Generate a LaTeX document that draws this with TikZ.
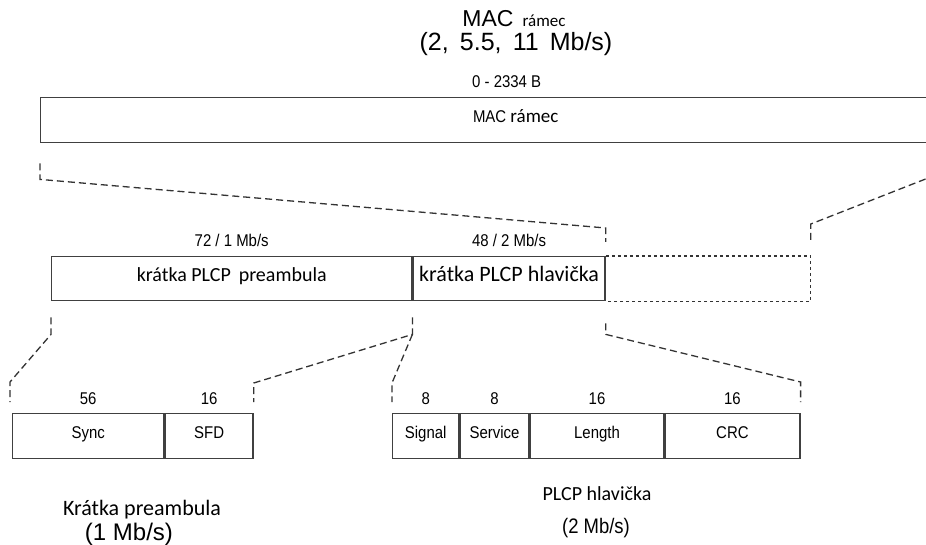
\documentclass[tikz,border=0pt]{standalone}
\usepackage{fontspec}
\setmainfont{Liberation Sans}
\newfontfamily\narrowsf[FakeStretch=0.88]{Liberation Sans}
\newfontfamily\calibri{Carlito}
\usetikzlibrary{calc, positioning}
\tikzset{field/.style = {draw = black!75, line width = 1.4pt, minimum height = 45pt, inner sep = 0pt, anchor = north west, text height = 0.72em, text depth = 0.2em, font = \narrowsf\fontsize{17}{20}\selectfont}}
\tikzset{bits/.style = {inner sep = 0pt, text depth = 0pt, font = \narrowsf\fontsize{17}{20}\selectfont}}
\tikzset{link/.style = {draw = black!80, line width = 1.3pt, dash pattern = on 7pt off 4pt}}
\tikzset{caption/.style = {inner sep = 0pt, font = \calibri\fontsize{20}{24}\selectfont}}
\tikzset{rate/.style = {inner sep = 0pt, font = \fontsize{25}{28}\selectfont}}

\begin{document}
\begin{tikzpicture}[x = 1pt, y = -1pt]
\useasboundingbox (0,0) rectangle (926,545);
\clip (0,0) rectangle (926,545);
\node[inner sep = 0pt, anchor = base] (title) at (514,27) {{\fontsize{23}{26}\selectfont MAC}\hspace{9pt}{\calibri\fontsize{17}{20}\selectfont rámec}};
\node[rate, anchor = base] (titlerate) at (516,51) {(2,\, 5.5,\, 11\, Mb/s)};
\node[field, minimum width = 950pt] (mac) at (40,97) {MAC {\calibri\fontsize{19}{22}\selectfont rámec}};
\node[bits, anchor = south] (maclen) at ($(mac.north)+(-9,-9)$) {0 - 2334 B};
\node[field, minimum width = 360pt, minimum height = 44pt, font = \calibri\fontsize{20}{24}\selectfont] (pre) at (51,256) {krátka PLCP\, preambula};
\node[field, minimum width = 192pt, minimum height = 44pt, font = \calibri\fontsize{22}{26}\selectfont, anchor = north west] (hdr) at (pre.north east) {krátka PLCP hlavička};
\draw[black!80, line width = 1.3pt, dash pattern = on 3pt off 3pt] (hdr.north east) -- ++(205,0) coordinate (tail) |- (hdr.south east);
\node[bits, above = 9pt of pre] {72 / 1 Mb/s};
\node[bits, above = 9pt of hdr] {48 / 2 Mb/s};
\node[field, minimum width = 151pt] (sync) at (12,413) {Sync};
\node[field, minimum width = 88pt] (sfd) at (sync.north east) {SFD};
\node[field, minimum width = 66pt] (signal) at (392,413) {Signal};
\node[field, minimum width = 69pt] (service) at (signal.north east) {Service};
\node[field, minimum width = 133pt] (length) at (service.north east) {Length};
\node[field, minimum width = 135pt] (crc) at (length.north east) {CRC};
\node[bits, above = 8pt of sync] {56};
\node[bits, above = 8pt of sfd] {16};
\node[bits, above = 8pt of signal] {8};
\node[bits, above = 8pt of service] {8};
\node[bits, above = 8pt of length] {16};
\node[bits, above = 8pt of crc] {16};
\node[caption, font = \calibri\fontsize{22}{26}\selectfont] (precap) at (142,510) {Krátka preambula};
\node[rate, font = \fontsize{24}{28}\selectfont] (prerate) at (129,534) {(1 Mb/s)};
\node[caption] (hdrcap) at (597,494) {PLCP hlavička};
\node[rate, font = \narrowsf\fontsize{21}{24}\selectfont] (hdrrate) at (596,528) {(2 Mb/s)};
\coordinate (off) at (946,171);
\draw[link] ($(mac.south west)+(0,20)$) -- ++(0,16) -- ($(hdr.north east)+(0,-28)$) -- ++(0,14);
\draw[link] (off) -- ($(tail)+(0,-32)$) -- ++(0,16);
\draw[link] ($(pre.south west)+(0,16)$) -- ++(0,17) -- ($(sync.north west)+(-2,-31)$) -- ++(0,20);
\draw[link] ($(pre.south east)+(0,16)$) -- ++(0,17) coordinate (split) -- ($(sfd.north east)+(0,-30)$) -- ++(0,19);
\draw[link] (split) -- ($(signal.north west)+(0,-30)$) -- ++(0,19);
\draw[link] ($(hdr.south east)+(0,22)$) -- ++(0,11) -- ($(crc.north east)+(0,-31)$) -- ++(0,20);
\end{tikzpicture}
\end{document}
